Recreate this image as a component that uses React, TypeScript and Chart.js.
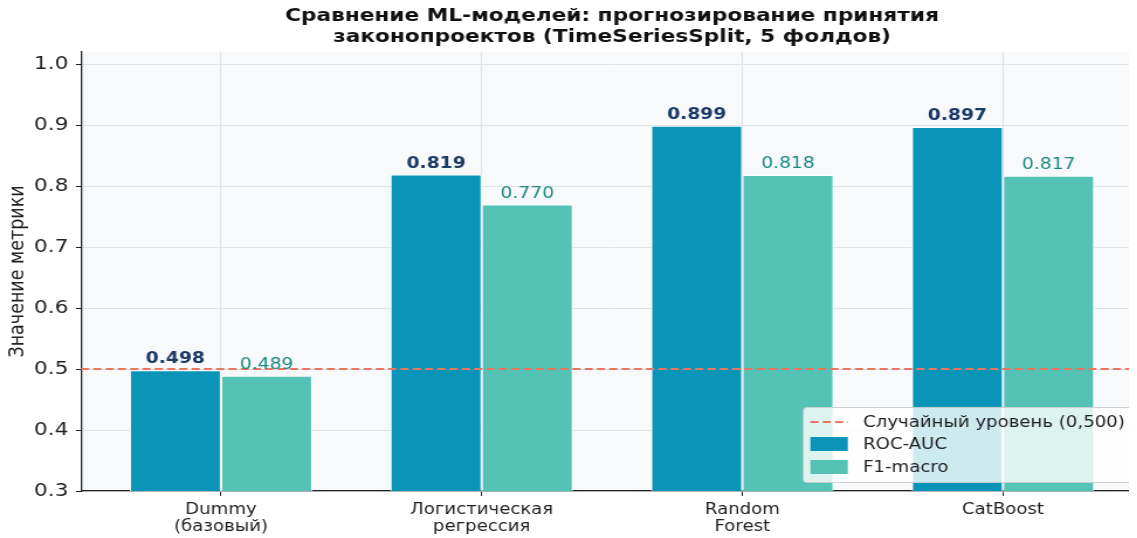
import React, { useEffect, useRef } from "react";
import { Chart, registerables } from "chart.js";

Chart.register(...registerables);

// ---------------- data ----------------
const CATEGORIES: string[][] = [
  ["Dummy", "(базовый)"],
  ["Логистическая", "регрессия"],
  ["Random", "Forest"],
  ["CatBoost"],
];
const ROC_AUC: number[] = [0.498, 0.819, 0.899, 0.897];
const F1_MACRO: number[] = [0.489, 0.77, 0.818, 0.817];
const Y_TICKS: number[] = [0.3, 0.4, 0.5, 0.6, 0.7, 0.8, 0.9, 1.0];
const BASELINE = 0.5;
const TITLE: string[] = [
  "Сравнение ML-моделей: прогнозирование принятия",
  "законопроектов (TimeSeriesSplit, 5 фолдов)",
];
const Y_LABEL = "Значение метрики";
const SERIES_LABELS: string[] = ["ROC-AUC", "F1-macro"];
const BASELINE_LABEL = "Случайный уровень (0,500)";

// ---------------- style ----------------
const FONT = "'DejaVu Sans', sans-serif";
const ROC_COLOR = "#0a95b8";
const F1_COLOR = "#55c2b6";
const ROC_TEXT = "#1b3a68";
const F1_TEXT = "#1a8a80";
const BASE_COLOR = "#e9765f";
const GRID_COLOR = "#e0e2e6";
const AXIS_COLOR = "#222222";
const PLOT_BG = "#f8f9fb";
const X_PAD = 0.537;

// canvas is drawn at INT_W px wide and displayed stretched to CSS_W px
const CSS_W = 1150;
const INT_W = 983;
const K = CSS_W / INT_W;
const H = 538;

export default function App() {
  const ref = useRef<HTMLCanvasElement | null>(null);

  useEffect(() => {
    const canvas = ref.current;
    if (!canvas) return;

    const bgPlugin = {
      id: "plotBg",
      beforeDraw(chart: any) {
        const { ctx, chartArea } = chart;
        ctx.save();
        ctx.fillStyle = PLOT_BG;
        ctx.fillRect(chartArea.left, chartArea.top, chartArea.right - chartArea.left, chartArea.bottom - chartArea.top);
        ctx.restore();
      },
    };

    const overlayPlugin = {
      id: "overlay",
      afterDatasetsDraw(chart: any) {
        const { ctx, chartArea, scales } = chart;
        // baseline
        const yb = scales.y.getPixelForValue(BASELINE);
        ctx.save();
        ctx.beginPath();
        ctx.rect(chartArea.left, chartArea.top, chartArea.right - chartArea.left, chartArea.bottom - chartArea.top);
        ctx.clip();
        ctx.strokeStyle = BASE_COLOR;
        ctx.lineWidth = 2;
        ctx.setLineDash([7, 3.5]);
        ctx.beginPath();
        ctx.moveTo(chartArea.left, yb);
        ctx.lineTo(chartArea.right, yb);
        ctx.stroke();
        ctx.restore();

        // value labels
        ctx.save();
        ctx.textAlign = "center";
        ctx.textBaseline = "bottom";
        chart.data.datasets.forEach((ds: any, di: number) => {
          const meta = chart.getDatasetMeta(di);
          ctx.font = di === 0 ? `bold 16px ${FONT}` : `16px ${FONT}`;
          ctx.fillStyle = di === 0 ? ROC_TEXT : F1_TEXT;
          meta.data.forEach((bar: any, i: number) => {
            const v = ds.data[i].y;
            ctx.fillText(v.toFixed(3), bar.x, bar.y - 3);
          });
        });
        ctx.restore();

        // legend
        ctx.save();
        ctx.font = `15.5px ${FONT}`;
        const labels = [BASELINE_LABEL, ...SERIES_LABELS];
        const tw = Math.max(...labels.map((l) => ctx.measureText(l).width));
        const handleW = 32;
        const boxW = 6 + handleW + 13 + tw + 7;
        const boxH = 75;
        const bx = chartArea.right - 8.5 - boxW;
        const by = chartArea.bottom - 9 - boxH;
        ctx.fillStyle = "rgba(255,255,255,0.8)";
        ctx.strokeStyle = "rgba(204,204,204,0.9)";
        ctx.lineWidth = 1;
        ctx.beginPath();
        (ctx as any).roundRect(bx, by + 0.5, boxW, boxH, 3);
        ctx.fill();
        ctx.stroke();
        const rowY = [by + 15, by + 37, by + 60];
        const hx = bx + 6;
        ctx.strokeStyle = BASE_COLOR;
        ctx.lineWidth = 2;
        ctx.setLineDash([7, 3.5]);
        ctx.beginPath();
        ctx.moveTo(hx, rowY[0]);
        ctx.lineTo(hx + handleW, rowY[0]);
        ctx.stroke();
        ctx.setLineDash([]);
        ctx.fillStyle = ROC_COLOR;
        ctx.fillRect(hx, rowY[1] - 7, handleW, 14);
        ctx.fillStyle = F1_COLOR;
        ctx.fillRect(hx, rowY[2] - 7, handleW, 14);
        ctx.fillStyle = "#222";
        ctx.textAlign = "left";
        ctx.textBaseline = "middle";
        labels.forEach((l, i) => ctx.fillText(l, hx + handleW + 13, rowY[i] + 1));
        ctx.restore();
      },
    };

    const chart = new Chart(canvas, {
      type: "bar",
      data: {
        datasets: [
          {
            label: SERIES_LABELS[0],
            data: ROC_AUC.map((v, i) => ({ x: i, y: v })),
            backgroundColor: ROC_COLOR,
            borderColor: "#ffffff",
            borderWidth: 1,
            categoryPercentage: 0.7,
            barPercentage: 1.0,
          },
          {
            label: SERIES_LABELS[1],
            data: F1_MACRO.map((v, i) => ({ x: i, y: v })),
            backgroundColor: F1_COLOR,
            borderColor: "#ffffff",
            borderWidth: 1,
            categoryPercentage: 0.7,
            barPercentage: 1.0,
          },
        ] as any,
      },
      options: {
        animation: false,
        responsive: false,
        maintainAspectRatio: false,
        devicePixelRatio: 1,
        layout: { padding: { left: 0, right: INT_W - 1143 / K, top: 0, bottom: 0 } },
        plugins: {
          legend: { display: false },
          tooltip: { enabled: false },
          title: {
            display: true,
            fullSize: false,
            text: TITLE,
            color: "#111",
            font: { family: FONT, size: 18.5, weight: "bold", lineHeight: 1.16 },
            padding: { top: 5, bottom: 4 },
          },
        },
        scales: {
          x: {
            type: "linear",
            min: -X_PAD,
            max: CATEGORIES.length - 1 + X_PAD,
            offset: false,
            grid: { offset: false, color: GRID_COLOR, lineWidth: 1, tickLength: 5, tickColor: AXIS_COLOR, drawTicks: true },
            border: { display: true, color: AXIS_COLOR, width: 1.3 },
            afterBuildTicks: (s: any) => {
              s.ticks = CATEGORIES.map((_, i) => ({ value: i }));
            },
            afterFit: (s: any) => {
              s.height = H - 491;
            },
            ticks: {
              autoSkip: false,
              maxRotation: 0,
              padding: 5,
              color: AXIS_COLOR,
              font: { family: FONT, size: 15.5, lineHeight: 1.1 },
              callback: (v: any) => CATEGORIES[Math.round(Number(v))] ?? "",
            },
          },
          y: {
            type: "linear",
            min: 0.3,
            max: 1.02,
            grid: { color: GRID_COLOR, lineWidth: 1, tickLength: 4.3, tickColor: AXIS_COLOR, drawTicks: true },
            border: { display: true, color: AXIS_COLOR, width: 1.3 },
            afterBuildTicks: (s: any) => {
              s.ticks = Y_TICKS.map((v) => ({ value: v }));
            },
            afterFit: (s: any) => {
              s.width = 81 / K;
            },
            ticks: {
              autoSkip: false,
              padding: 6.5,
              color: AXIS_COLOR,
              font: { family: FONT, size: 18.5 },
              callback: (v: any) => Number(v).toFixed(1),
            },
            title: {
              display: true,
              text: Y_LABEL,
              color: AXIS_COLOR,
              font: { family: FONT, size: 17.5 },
              padding: { top: 4.5, bottom: 0 },
            },
          },
        },
      },
      plugins: [bgPlugin, overlayPlugin],
    } as any);

    return () => chart.destroy();
  }, []);

  return (
    <div style={{ marginLeft: -8, marginTop: -8, width: 1137, height: H, overflow: "hidden" }}>
      <canvas
        ref={ref}
        width={INT_W}
        height={H}
        style={{ width: `${CSS_W}px`, height: `${H}px`, display: "block" }}
      />
    </div>
  );
}
